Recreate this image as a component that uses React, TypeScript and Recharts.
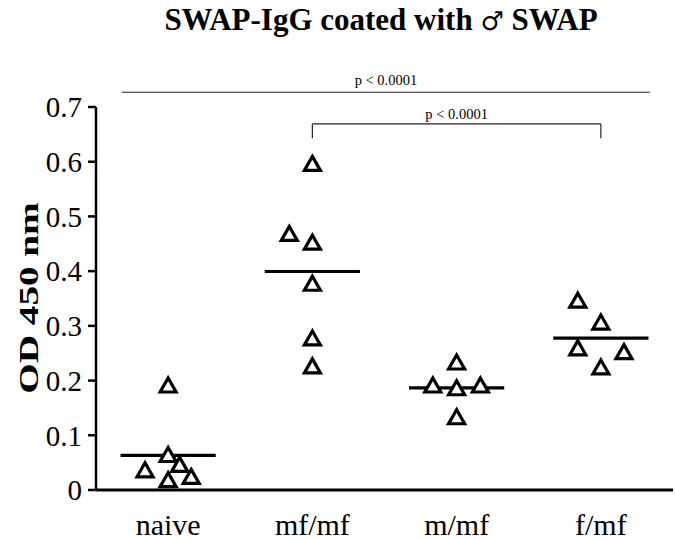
import { ReferenceLine, Scatter, ScatterChart, XAxis, YAxis } from 'recharts';

const groups = ['naive', 'mf/mf', 'm/mf', 'f/mf'];

// OD values per group, with the horizontal jitter of each triangle (fraction of a group slot)
const naive = [0.191, 0.064, 0.036, 0.046, 0.018, 0.024];
const naiveShift = [0, 0, -0.16, 0.08, 0, 0.16];
const mfmf = [0.596, 0.468, 0.452, 0.377, 0.277, 0.226];
const mfmfShift = [0, -0.16, 0, 0, 0, 0];
const mmf = [0.233, 0.191, 0.191, 0.186, 0.133];
const mmfShift = [0, -0.165, 0.165, 0, 0];
const fmf = [0.346, 0.306, 0.259, 0.252, 0.224];
const fmfShift = [-0.16, 0, -0.16, 0.16, 0];

const yTicks = [0, 0.1, 0.2, 0.3, 0.4, 0.5, 0.6, 0.7];
const pLabel = 'p < 0.0001';

const series = [
  { values: naive, shift: naiveShift },
  { values: mfmf, shift: mfmfShift },
  { values: mmf, shift: mmfShift },
  { values: fmf, shift: fmfShift },
];

const serif = '"Liberation Serif", "Times New Roman", serif';
const mean = (a: number[]) => a.reduce((s, v) => s + v, 0) / a.length;

function Triangle({ cx, cy }: any) {
  if (cx == null || cy == null) return null;
  return (
    <path
      d={`M${cx},${cy - 7.5}L${cx + 8},${cy + 6.5}L${cx - 8},${cy + 6.5}Z`}
      fill="#fff"
      stroke="#000"
      strokeWidth={3.2}
      strokeLinejoin="miter"
    />
  );
}

export default function App() {
  return (
    <div style={{ position: 'absolute', left: 0, top: 0, width: 675, height: 540, background: '#fff', fontFamily: serif }}>
      <div style={{ position: 'absolute', left: 0, width: 762, top: 2, textAlign: 'center', fontSize: 31, lineHeight: 1.15, fontWeight: 'bold', whiteSpace: 'nowrap' }}>
        SWAP-IgG coated with <span style={{ fontWeight: 'normal', fontFamily: '"DejaVu Sans", sans-serif', fontSize: 26 }}>♂</span> SWAP
      </div>
      <div style={{ position: 'absolute', left: 29, top: 298, transform: 'translate(-50%, -50%) rotate(-90deg) scaleX(1.45)', fontSize: 27, fontWeight: 'bold', whiteSpace: 'nowrap' }}>
        OD 450 nm
      </div>
      <ScatterChart width={675} height={540} margin={{ top: 107, right: 2, bottom: 0, left: 0 }}>
        <XAxis
          type="number"
          dataKey="x"
          domain={[0, 4]}
          ticks={[0.5, 1.5, 2.5, 3.5]}
          tickFormatter={(v: number) => groups[Math.floor(v)]}
          height={50}
          tickLine={false}
          tickSize={0}
          tickMargin={24}
          axisLine={{ stroke: '#000', strokeWidth: 3 }}
          tick={{ fill: '#000', fontSize: 30, fontFamily: serif }}
        />
        <YAxis
          type="number"
          dataKey="y"
          domain={[0, 0.7]}
          ticks={yTicks}
          tickFormatter={(v: number) => (v === 0 ? '0' : v.toFixed(1))}
          width={96}
          tickSize={8}
          tickMargin={6}
          axisLine={{ stroke: '#000', strokeWidth: 2.5 }}
          tickLine={{ stroke: '#000', strokeWidth: 2.5 }}
          tick={{ fill: '#000', fontSize: 29, fontFamily: serif }}
        />
        {series.map((s, i) => (
          <Scatter
            key={groups[i]}
            data={s.values.map((v, k) => ({ x: i + 0.5 + s.shift[k], y: v }))}
            shape={Triangle}
            isAnimationActive={false}
          />
        ))}
        {series.map((s, i) => (
          <ReferenceLine
            key={'m' + i}
            segment={[{ x: i + 0.17, y: mean(s.values) }, { x: i + 0.83, y: mean(s.values) }]}
            stroke="#000"
            strokeWidth={3.2}
            ifOverflow="visible"
          />
        ))}
        <ReferenceLine
          segment={[{ x: 0.18, y: 0.727 }, { x: 3.84, y: 0.727 }]}
          stroke="#222"
          strokeWidth={1.2}
          ifOverflow="visible"
          label={{ value: pLabel, position: 'top', offset: 7, fill: '#000', fontSize: 14.5, fontFamily: serif }}
        />
        <ReferenceLine
          segment={[{ x: 1.5, y: 0.669 }, { x: 3.5, y: 0.669 }]}
          stroke="#222"
          strokeWidth={1.2}
          ifOverflow="visible"
          label={{ value: pLabel, position: 'top', offset: 5, fill: '#000', fontSize: 14.5, fontFamily: serif }}
        />
        <ReferenceLine segment={[{ x: 1.5, y: 0.669 }, { x: 1.5, y: 0.643 }]} stroke="#222" strokeWidth={1.2} ifOverflow="visible" />
        <ReferenceLine segment={[{ x: 3.5, y: 0.669 }, { x: 3.5, y: 0.643 }]} stroke="#222" strokeWidth={1.2} ifOverflow="visible" />
      </ScatterChart>
    </div>
  );
}
